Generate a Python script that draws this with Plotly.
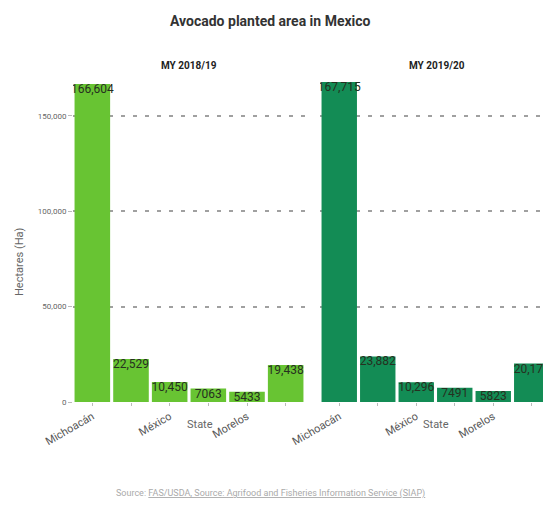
import plotly.graph_objects as go

states = ["Michoacán", "Jalisco", "México", "Nayarit", "Morelos", "Others"]
shown_labels = ["Michoacán", "", "México", "", "Morelos", ""]
area_2018 = [166604, 22529, 10450, 7063, 5433, 19438]
area_2019 = [167715, 23882, 10296, 7491, 5823, 20173]
panel_titles = ["MY 2018/19", "MY 2019/20"]
colors = ["#68c433", "#138c55"]
y_ticks = [0, 50000, 100000, 150000]
y_ticktext = ["0", "50,000", "100,000", "150,000"]


def fmt(v):
    return f"{v:,}" if v >= 10000 else str(v)


OFF = 8  # page body margin
W, H = 551 - OFF, 506 - OFF
ML = 73 - OFF
MT = 70 - OFF
MB = H - (402 - OFF)
MR = 0
pw = W - ML - MR
ph = H - MT - MB


def px_x(px):
    return (px - OFF - ML) / pw


def px_y(py):
    return (H - MB - (py - OFF)) / ph


left_end = px_x(305)
right_start = px_x(320)

fig = go.Figure()
for i, (vals, col) in enumerate([(area_2018, colors[0]), (area_2019, colors[1])]):
    xa = "x" if i == 0 else "x2"
    ya = "y" if i == 0 else "y2"
    fig.add_trace(go.Bar(x=states, y=vals, marker=dict(color=col, line=dict(width=0)),
                         xaxis=xa, yaxis=ya, showlegend=False, hoverinfo="skip"))
    fig.add_trace(go.Scatter(x=states, y=vals, mode="text", text=[fmt(v) for v in vals],
                             textposition="bottom center",
                             textfont=dict(family="Roboto", size=12, color="#263020"),
                             xaxis=xa, yaxis=ya, showlegend=False, hoverinfo="skip"))

xcommon = dict(type="category", tickmode="array", tickvals=states, ticktext=shown_labels,
               tickangle=-30, tickfont=dict(family="Roboto", size=11, color="#555"),
               ticks="outside", ticklen=3, tickcolor="#bbb", showgrid=False,
               showline=False, zeroline=False, range=[-0.5, 5.5], fixedrange=True)
grid = dict(showgrid=True, gridcolor="#a0a0a0", gridwidth=1.5, griddash="4px,8px",
            zeroline=False, showline=False)
fig.update_layout(
    width=W, height=H,
    margin=dict(l=ML, r=MR, t=MT, b=MB, autoexpand=False),
    paper_bgcolor="white", plot_bgcolor="white",
    bargap=0.08,
    xaxis=dict(domain=[0, left_end], anchor="y", **xcommon),
    xaxis2=dict(domain=[right_start, 1], anchor="y2", **xcommon),
    yaxis=dict(range=[0, 174000], tickvals=y_ticks, ticktext=y_ticktext,
               tickfont=dict(family="Roboto", size=8, color="#666"),
               ticks="outside", ticklen=4, tickcolor="#bbb", anchor="x", **grid),
    yaxis2=dict(matches="y", anchor="x2", showticklabels=False, tickvals=y_ticks, **grid),
    font=dict(family="Roboto"),
)

ann = [
    dict(text="<b>Avocado planted area in Mexico</b>", x=px_x(270), y=px_y(21),
         font=dict(family="Roboto", size=14, color="#333")),
    dict(text="<b>" + panel_titles[0] + "</b>", x=px_x(189), y=px_y(65),
         font=dict(family="Roboto", size=10, color="#222")),
    dict(text="<b>" + panel_titles[1] + "</b>", x=px_x(437), y=px_y(65),
         font=dict(family="Roboto", size=10, color="#222")),
    dict(text="State", x=px_x(200), y=px_y(424),
         font=dict(family="Roboto", size=11, color="#666")),
    dict(text="State", x=px_x(436), y=px_y(424),
         font=dict(family="Roboto", size=11, color="#666")),
    dict(text="Hectares (Ha)", x=px_x(19), y=px_y(262), textangle=-90,
         font=dict(family="Roboto", size=11, color="#666")),
    dict(text="Source: <u>FAS/USDA, Source: Agrifood and Fisheries Information Service (SIAP)</u>",
         x=px_x(270), y=px_y(493), font=dict(family="Roboto", size=9, color="#aaa")),
]
for a in ann:
    a.update(xref="paper", yref="paper", showarrow=False, xanchor="center", yanchor="middle")
fig.update_layout(annotations=ann)
fig.write_html("out.html")
